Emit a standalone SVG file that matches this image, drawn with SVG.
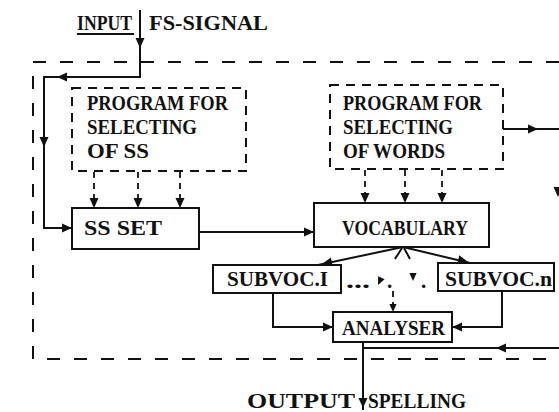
<svg xmlns="http://www.w3.org/2000/svg" xmlns:xlink="http://www.w3.org/1999/xlink" width="559" height="412" viewBox="0 0 559 412">
<style>
text{font-family:"Liberation Serif","DejaVu Serif",serif;font-weight:bold;font-size:21px;fill:#111}
.box{fill:#fff;stroke:#111;stroke-width:2}
.pbox{fill:none;stroke:#111;stroke-width:2;stroke-dasharray:9 7}
.outer{fill:none;stroke:#111;stroke-width:2;stroke-dasharray:13 14}
.ln{fill:none;stroke:#111;stroke-width:2}
.dl{fill:none;stroke:#111;stroke-width:1.8;stroke-dasharray:6 5}
.ah{fill:#111}
</style>
<defs>
<path id="ah" d="M0,0 L-10,-4.5 L-10,4.5 Z"/>
</defs>
<rect width="559" height="412" fill="#fff"/>
<path class="outer" d="M559,62 H33 V359 H559"/>
<g id="input">
<text x="77" y="30" textLength="55" lengthAdjust="spacingAndGlyphs">INPUT</text>
<line class="ln" x1="77" y1="34" x2="134" y2="34" stroke-width="1.5"/>
<text x="149" y="30" textLength="119" lengthAdjust="spacingAndGlyphs">FS-SIGNAL</text>
</g>
<g id="prog-ss">
<rect class="pbox" x="72" y="88" width="174" height="83"/>
<text x="87" y="110" textLength="141" lengthAdjust="spacingAndGlyphs">PROGRAM FOR</text>
<text x="87" y="134" textLength="110" lengthAdjust="spacingAndGlyphs">SELECTING</text>
<text x="87" y="158" textLength="62" lengthAdjust="spacingAndGlyphs">OF SS</text>
</g>
<g id="prog-words">
<rect class="pbox" x="330" y="85" width="173" height="84"/>
<text x="343" y="110" textLength="139" lengthAdjust="spacingAndGlyphs">PROGRAM FOR</text>
<text x="343" y="134" textLength="110" lengthAdjust="spacingAndGlyphs">SELECTING</text>
<text x="343" y="158" textLength="102" lengthAdjust="spacingAndGlyphs">OF WORDS</text>
</g>
<g id="ss-set">
<rect class="box" x="72" y="208" width="127" height="41"/>
<text x="84" y="235" textLength="78" lengthAdjust="spacingAndGlyphs">SS SET</text>
</g>
<g id="vocabulary">
<rect class="box" x="314" y="203" width="175" height="44"/>
<text x="342" y="235" textLength="126" lengthAdjust="spacingAndGlyphs">VOCABULARY</text>
</g>
<g id="subvoc-1">
<rect class="box" x="213" y="265" width="128" height="28"/>
<text x="227" y="286" textLength="101" lengthAdjust="spacingAndGlyphs">SUBVOC.I</text>
</g>
<g id="subvoc-n">
<rect class="box" x="438" y="263" width="116" height="28"/>
<text x="445" y="286" textLength="107" lengthAdjust="spacingAndGlyphs">SUBVOC.n</text>
</g>
<g id="analyser">
<rect class="box" x="333" y="312" width="119" height="30"/>
<text x="342" y="335" textLength="103" lengthAdjust="spacingAndGlyphs">ANALYSER</text>
</g>
<g id="output">
<text x="247" y="408" textLength="108" lengthAdjust="spacingAndGlyphs">OUTPUT</text>
<text x="368" y="408" textLength="98" lengthAdjust="spacingAndGlyphs">SPELLING</text>
</g>
<g id="dots">
<text x="346" y="288" textLength="24" lengthAdjust="spacingAndGlyphs">...</text>
<text x="387" y="288">.</text>
<text x="421" y="288">.</text>
</g>
<g id="connectors">
<path class="ln" d="M140,10 V77 H44 V228 H72"/>
<use href="#ah" class="ah" transform="translate(140,48) rotate(90)"/>
<use href="#ah" class="ah" transform="translate(57,77) rotate(180)"/>
<use href="#ah" class="ah" transform="translate(44,147) rotate(90)"/>
<use href="#ah" class="ah" transform="translate(72,228)"/>
<path class="dl" d="M94,172 V206 M138,172 V206 M180,172 V206"/>
<use href="#ah" class="ah" transform="translate(94,208) rotate(90)"/>
<use href="#ah" class="ah" transform="translate(138,208) rotate(90)"/>
<use href="#ah" class="ah" transform="translate(180,208) rotate(90)"/>
<path class="ln" d="M199,232 H314"/>
<use href="#ah" class="ah" transform="translate(314,232)"/>
<path class="dl" d="M365,170 V201 M405,170 V201 M442,170 V201"/>
<use href="#ah" class="ah" transform="translate(365,203) rotate(90)"/>
<use href="#ah" class="ah" transform="translate(405,203) rotate(90)"/>
<use href="#ah" class="ah" transform="translate(442,203) rotate(90)"/>
<path class="ln" d="M503,129 H559"/>
<use href="#ah" class="ah" transform="translate(538,129)"/>
<use href="#ah" class="ah" transform="translate(558,197) rotate(90)"/>
<path class="ln" d="M403,247 L318,265 M403,247 L470,263"/>
<use href="#ah" class="ah" transform="translate(322,264) rotate(168)"/>
<use href="#ah" class="ah" transform="translate(468,262) rotate(13)"/>
<path class="ln" d="M402,248 L395,259 M404,248 L410,259" stroke-width="1.5"/>
<use href="#ah" class="ah" transform="translate(378,285) rotate(115) scale(0.8)"/>
<use href="#ah" class="ah" transform="translate(413,281) rotate(90) scale(0.8)"/>
<path class="dl" d="M393,291 V308" stroke-dasharray="4 4"/>
<use href="#ah" class="ah" transform="translate(393,312) rotate(90) scale(0.8)"/>
<path class="ln" d="M273,293 V327 H333"/>
<use href="#ah" class="ah" transform="translate(333,327)"/>
<path class="ln" d="M502,291 V327 H452"/>
<use href="#ah" class="ah" transform="translate(452,327) rotate(180)"/>
<path class="ln" d="M559,348 H363"/>
<use href="#ah" class="ah" transform="translate(496,348) rotate(180)"/>
<path class="ln" d="M363,342 V410"/>
<use href="#ah" class="ah" transform="translate(363,408) rotate(90)"/>
</g>
</svg>
